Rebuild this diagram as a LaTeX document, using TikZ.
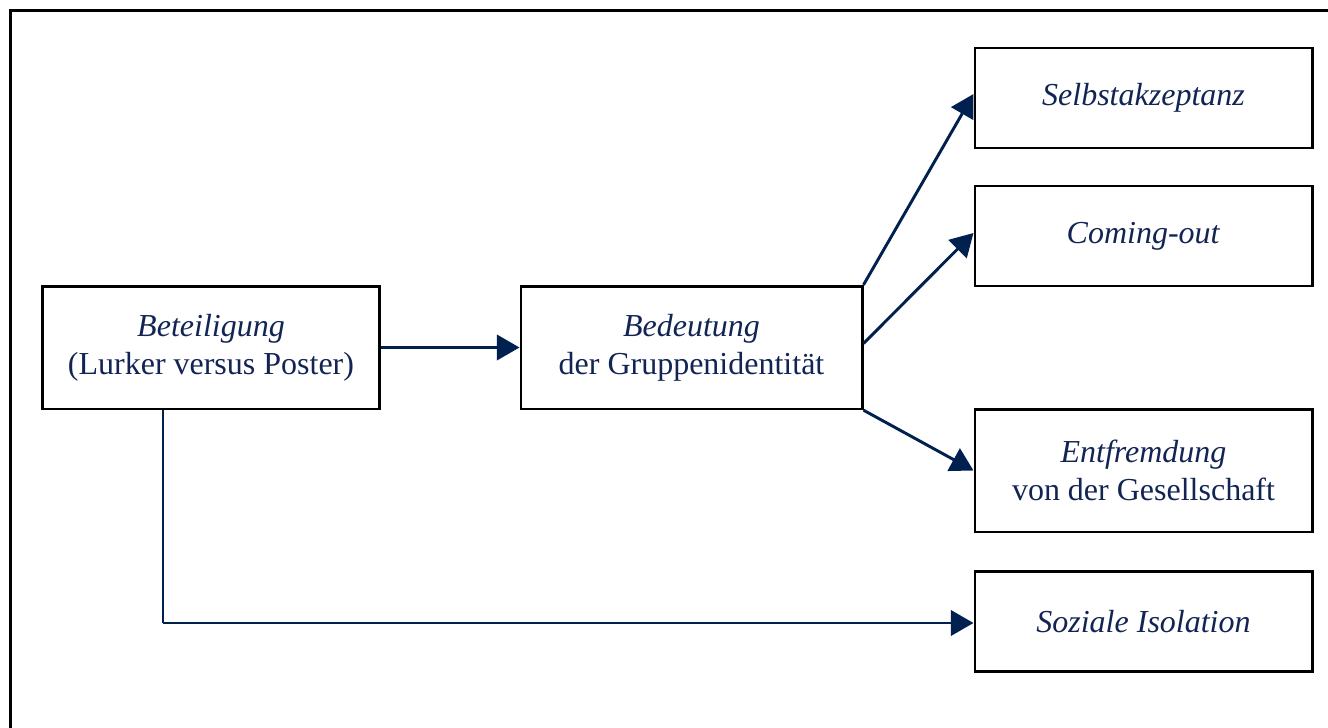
\documentclass[tikz,border=0pt]{standalone}
\usepackage{fontspec}
\setmainfont{Liberation Serif}
\usepackage{tikz}
\usetikzlibrary{arrows.meta, positioning, calc}

\definecolor{navyline}{RGB}{0,32,80}
\definecolor{navytext}{RGB}{18,36,84}

\tikzset{
  box/.style={draw=black, line width=2pt, minimum width=253pt, minimum height=92pt,
    align=center, inner sep=0pt, text=navytext, font=\fontsize{24}{28.5}\selectfont},
  flow/.style={draw=navyline, line width=2.2pt, -{Triangle[length=17pt,width=19pt]}}
}

\begin{document}
\begin{tikzpicture}[x=0.75pt, y=-0.75pt]
\useasboundingbox (0,0) rectangle (1328,728);
% outer frame
\draw[line width=2.2pt] (1328,10.5) -- (10.5,10.5) -- (10.5,728);

% left and middle boxes
\node[box] (beteiligung) at (211,347.5) {\textit{Beteiligung}\\(Lurker versus Poster)};
\node[box, minimum width=256pt] (bedeutung) at (691.5,347.5) {\textit{Bedeutung}\\der Gruppenidentität};

% outcome boxes
\node[box, minimum height=75pt] (selbst) at (1143.5,98) {\textit{Selbstakzeptanz}};
\node[box, minimum height=75pt] (comingout) at (1143.5,236) {\textit{Coming-out}};
\node[box] (entfremdung) at (1143.5,470.5) {\textit{Entfremdung}\\von der Gesellschaft};
\node[box, minimum height=75pt] (isolation) at (1143.5,621.5) {\textit{Soziale Isolation}};

% arrows
\draw[flow] (beteiligung.east) -- (bedeutung.west);
\draw[flow] (bedeutung.north east) -- ($(selbst.west)+(0,-4)$);
\draw[flow] ($(bedeutung.east)+(0,-4)$) -- ($(comingout.west)+(0,-3)$);
\draw[flow] (bedeutung.south east) -- (entfremdung.west);

% path to isolation
\coordinate (turn) at (163,623);
\draw[navyline, line width=1pt] (beteiligung.south -| turn) -- (turn);
\draw[flow] (turn) -- (turn -| isolation.west);
\end{tikzpicture}
\end{document}
